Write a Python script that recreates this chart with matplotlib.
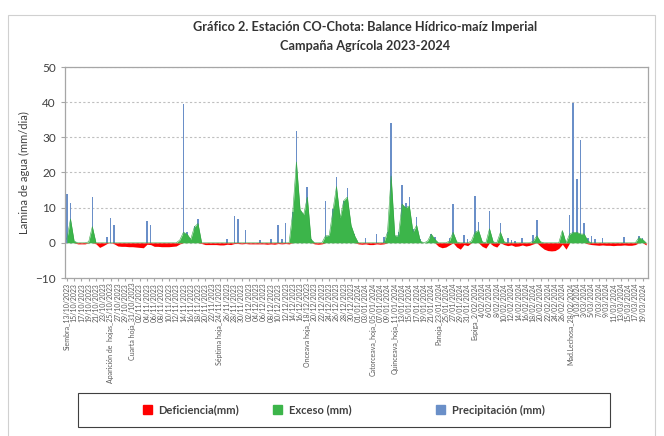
import matplotlib
matplotlib.use("Agg")
import matplotlib.pyplot as plt
import matplotlib.patches as mpatches
import numpy as np
import pandas as pd

plt.rcParams['font.family'] = ['Lato', 'DejaVu Sans']

# datos diarios 13/10/2023 - 20/03/2024
fecha_inicio = "2023-10-13"
n_dias = 160

precipitacion = [
    14, 11.3, 0, 0, 0, 0, 0, 13.1, 0, 0,            # 0
    0, 1.7, 7, 5.1, 0, 0, 0, 0, 0, 0,               # 10
    0, 0, 6.3, 5, 0, 0, 0, 0, 0, 0,                 # 20
    0, 0, 39.5, 3.1, 0, 4.8, 6.8, 0, 0, 0,          # 30
    0, 0, 0, 0, 1, 0, 7.7, 6.8, 0, 3.6,             # 40
    0, 0, 0, 0.8, 0, 0, 1.2, 0, 5, 1,               # 50
    5.7, 0, 8.7, 31.8, 9, 8, 16, 1, 0, 0,           # 60
    0, 12, 2, 9.7, 18.8, 7, 12, 15.6, 4, 2.6,       # 70
    0, 0, 1.5, 0, 0, 2.5, 0, 1.7, 3, 34,            # 80
    2, 3, 16.5, 11.2, 13.1, 4, 7.3, 1, 0, 0,        # 90
    2.5, 1.7, 0, 0, 0, 1.3, 11, 0, 0, 2.2,          # 100
    1, 0, 13.4, 6, 0, 0, 9.1, 0, 0, 5.7,            # 110
    0, 1.3, 0.8, 0.5, 0, 1.4, 0, 0, 2.3, 6.5,       # 120
    0, 0, 0, 0, 0, 0, 3.1, 0, 8, 39.8,              # 130
    18.2, 29.1, 5.5, 1.4, 2, 1, 0, 1.5, 0, 0,       # 140
    0, 0, 0, 1.7, 0, 0, 0, 2, 1.5, 0,               # 150
]

exceso = [
    1, 6.8, 0.5, 0, 0, 0, 0.3, 4.6, 0, 0,           # 0
    0, 0, 0, 0, 0, 0, 0, 0, 0, 0,                   # 10
    0, 0, 0, 0, 0, 0, 0, 0, 0, 0,                   # 20
    0, 0.8, 3, 2.5, 1, 4.5, 5.5, 0, 0, 0,           # 30
    0, 0, 0, 0, 0, 0, 0, 0, 0, 0,                   # 40
    0, 0, 0, 0, 0, 0, 0, 0, 0, 0,                   # 50
    0, 0, 8.7, 23, 9.5, 8, 13, 1, 0, 0,             # 60
    0, 2, 2, 9, 16, 7, 12, 13, 5, 2,                # 70
    0, 0, 0, 0, 0, 0, 0, 0, 3, 19,                  # 80
    2, 2, 11, 10, 10.5, 3, 5, 0.5, 0, 0.5,          # 90
    2.5, 1, 0, 0, 0, 0.5, 3, 0.3, 0, 0,             # 100
    0, 0.5, 3, 3.5, 0.3, 0, 4, 0.3, 0, 3,           # 110
    0.3, 0, 0, 0, 0, 0, 0, 0, 0.5, 2,               # 120
    0.3, 0, 0, 0, 0, 0, 3.5, 0, 2.5, 3,             # 130
    3, 2.5, 2.5, 0.5, 0, 0, 0, 0, 0, 0,             # 140
    0, 0, 0, 0, 0, 0, 0, 1.5, 1, 0,                 # 150
]

deficiencia = [
    0, 0, 0, -0.3, -0.3, -0.3, 0, 0, -0.3, -1.3,                 # 0
    -0.8, -0.2, 0, -0.3, -0.9, -1, -1, -1.1, -1.1, -1.2,         # 10
    -1.3, -1.4, -0.4, -0.5, -1, -1, -1.1, -1.1, -1.1, -1,        # 20
    -0.9, -0.3, 0, 0, 0, 0, 0, -0.2, -0.5, -0.5,                 # 30
    -0.5, -0.5, -0.6, -0.6, -0.4, -0.5, -0.2, -0.2, -0.3, -0.2,  # 40
    -0.3, -0.3, -0.3, -0.3, -0.3, -0.4, -0.3, -0.4, -0.2, -0.3,  # 50
    -0.2, -0.3, 0, 0, 0, 0, 0, 0, -0.3, -0.4,                    # 60
    -0.3, 0, 0, 0, 0, 0, 0, 0, 0, 0,                             # 70
    -0.3, -0.4, -0.3, -0.5, -0.5, -0.3, -0.4, -0.3, 0, 0,        # 80
    0, 0, 0, 0, 0, 0, 0, 0, 0, 0,                                # 90
    0, 0, -1, -1.4, -1.2, -0.6, 0, -1.2, -1.8, -0.5,             # 100
    -0.8, 0, 0, 0, -1, -1.5, 0, -0.8, -1.2, 0,                   # 110
    -0.5, -0.8, -0.6, -1, -0.9, -0.6, -0.9, -0.7, -0.3, 0,       # 120
    -1, -1.8, -2.2, -2.3, -2.2, -1.6, -0.4, -1.8, 0, 0,          # 130
    0, 0, 0, -0.3, -0.5, -0.6, -0.7, -0.6, -0.7, -0.7,           # 140
    -0.8, -0.7, -0.7, -0.6, -0.7, -0.7, -0.5, 0, 0, -0.6,        # 150
]

# etapas fenologicas (indice del dia, texto)
etapas_idx = [0, 12, 18, 42, 66, 84, 90, 102, 112, 138]
etapas_txt = ["Siembra_", "Aparición de  hojas_", "Cuarta hoja_", "Séptima hoja_",
              "Onceava hoja_", "Catorceava_hoja_", "Quinceava_hoja_", "Panoja_",
              "Espiga_", "Mad.Lechosa_"]

series_txt = ["Deficiencia(mm)", "Exceso (mm)", "Precipitación (mm)"]
colores = ["#ff0000", "#3cb54a", "#6a8fc8"]

fechas = pd.date_range(fecha_inicio, periods=n_dias, freq="D")


def etiqueta(f):
    if f.year == 2023 or f.month == 1:
        return f"{f.day:02d}/{f.month:02d}/{f.year}"
    return f"{f.day}/{f.month:02d}/{f.year}"


x = np.arange(n_dias)
ticks = x[::2]
labels = [etiqueta(fechas[i]) for i in ticks]
for i, t in zip(etapas_idx, etapas_txt):
    labels[i // 2] = t + labels[i // 2]

fig = plt.figure(figsize=(6.64, 4.36), dpi=100)
ax = fig.add_axes([65 / 664, 1 - 278 / 436, 583 / 664, 211 / 436])

# columnas de precipitacion (detras de las areas)
ax.bar(x, precipitacion, width=0.45, color=colores[2], zorder=2)
# areas
ax.fill_between(x, 0, deficiencia, color=colores[0], lw=0, zorder=3)
ax.fill_between(x, 0, exceso, color=colores[1], lw=0, zorder=3)
ax.plot(x, exceso, color="#34a544", lw=0.4, zorder=3)

ax.set_xlim(-0.5, n_dias - 0.5)
ax.set_ylim(-10, 50)
ax.set_yticks(np.arange(-10, 51, 10))
ax.yaxis.grid(True, linestyle=(0, (2, 2)), color="#bfbfbf", lw=0.8, zorder=0)
ax.set_axisbelow(True)
for s in ax.spines.values():
    s.set_color("#a6a6a6")
    s.set_linewidth(0.9)

ax.set_xticks(ticks)
ax.set_xticklabels(labels, rotation=90, fontsize=5, color="#595959")
ax.tick_params(axis="x", length=2, color="#a6a6a6", pad=1.5)
ax.tick_params(axis="y", labelsize=8.5, labelcolor="#404040", length=3, color="#a6a6a6")
ax.set_ylabel("Lamina de agua (mm/dia)", fontsize=8, color="#404040", labelpad=4)

fig.text(0.55, 1 - 27 / 436, "Gráfico 2. Estación CO-Chota: Balance Hídrico-maíz Imperial",
         ha="center", va="center", fontsize=9.2, fontweight="bold", color="#333333")
fig.text(0.55, 1 - 46 / 436, "Campaña Agrícola 2023-2024",
         ha="center", va="center", fontsize=9.2, fontweight="bold", color="#333333")

# leyenda: una entrada por serie, en su posicion
pos_leyenda = [143, 273, 436]
for px, txt, col in zip(pos_leyenda, series_txt, colores):
    leg = fig.legend([mpatches.Patch(color=col)], [txt], loc="center left",
                     bbox_to_anchor=(px / 664, 1 - 410 / 436), frameon=False,
                     borderpad=0, borderaxespad=0,
                     handlelength=0.8, handleheight=0.8, handletextpad=0.6,
                     prop={"weight": "bold", "size": 8})
    for t in leg.get_texts():
        t.set_color("#404040")
fig.patches.append(mpatches.Rectangle((78 / 664, 1 - 427 / 436), 532 / 664, 34 / 436,
                                      transform=fig.transFigure, fill=False,
                                      edgecolor="#404040", lw=0.8))

# marco exterior
fig.patches.append(mpatches.Rectangle((8 / 664, -0.05), 647 / 664, 1.05 - 15 / 436,
                                      transform=fig.transFigure, fill=False,
                                      edgecolor="#d0d0d0", lw=0.8))

fig.savefig("out.png", dpi=100)
